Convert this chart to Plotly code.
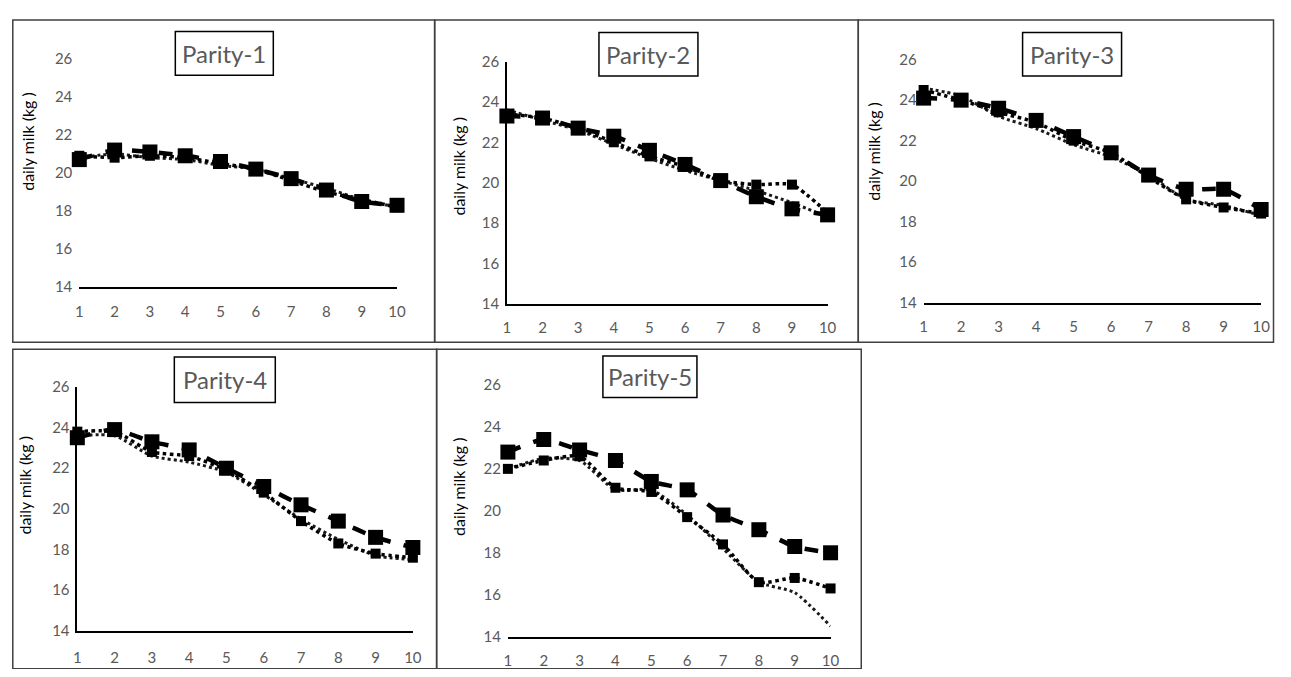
import plotly.graph_objects as go

PAGE_MARGIN = 8           # default body margin of the html page
W, H = 1291 - 2 * PAGE_MARGIN, 677 - 2 * PAGE_MARGIN

months = [1, 2, 3, 4, 5, 6, 7, 8, 9, 10]
panel_titles = ["Parity-1", "Parity-2", "Parity-3", "Parity-4", "Parity-5"]
y_ticks = [14, 16, 18, 20, 22, 24, 26]

# series per parity
s1 = [
    [20.7, 21.2, 21.1, 20.9, 20.6, 20.2, 19.7, 19.1, 18.5, 18.3],
    [23.3, 23.2, 22.7, 22.3, 21.6, 20.9, 20.1, 19.3, 18.7, 18.4],
    [24.1, 24.0, 23.6, 23.0, 22.2, 21.4, 20.3, 19.6, 19.6, 18.6],
    [23.5, 23.9, 23.3, 22.9, 22.0, 21.1, 20.2, 19.4, 18.6, 18.1],
    [22.8, 23.4, 22.9, 22.4, 21.4, 21.0, 19.8, 19.1, 18.3, 18.0],
]
s2 = [
    [20.9, 20.8, 20.9, 20.8, 20.5, 20.2, 19.6, 19.0, 18.6, 18.2],
    [23.4, 23.2, 22.7, 22.0, 21.3, 20.8, 20.1, 19.9, 19.9, 18.5],
    [24.5, 24.0, 23.4, 22.9, 22.0, 21.4, 20.2, 19.1, 18.7, 18.4],
    [23.8, 23.8, 22.8, 22.6, 21.9, 20.8, 19.4, 18.3, 17.8, 17.6],
    [22.0, 22.4, 22.6, 21.1, 20.9, 19.7, 18.4, 16.6, 16.8, 16.3],
]
s3 = [
    [20.8, 21.0, 20.8, 20.7, 20.4, 20.2, 19.7, 19.2, 18.6, 18.2],
    [23.6, 23.1, 22.6, 21.9, 21.2, 20.6, 20.1, 19.6, 19.0, 18.3],
    [24.6, 24.2, 23.2, 22.6, 21.8, 21.2, 20.3, 19.1, 18.8, 18.3],
    [23.6, 23.6, 22.6, 22.3, 21.8, 20.7, 19.5, 18.5, 17.7, 17.5],
    [22.0, 22.5, 22.4, 21.0, 21.0, 19.8, 18.2, 16.6, 16.1, 14.5],
]

# layout geometry in page pixels
plot_px = [  # x0, x1, y_top, y_bottom
    (76, 397, 50, 286),
    (508, 832, 53, 303),
    (929, 1270, 51, 302),
    (74, 413, 389, 641),
    (509, 835, 387, 647),
]
frames_px = [
    (8.8, 435, 10, 343),
    (435, 863, 10, 343),
    (863, 1282.5, 10, 343),
    (8.8, 437, 350, 680),
    (437, 866, 350, 680),
]
title_boxes = [
    (173, 272, 22, 67),
    (601, 701, 23, 68),
    (1029, 1129, 23, 68),
    (172, 274, 358, 405),
    (605, 700, 357, 400),
]
ytitle_pos = [(24, 135), (459, 161), (878, 146), (21, 490), (459, 492)]
show_yline = [False, True, False, True, False]
xlab_len = [10, 10, 10, 12, 10]

FONT = "Lato"
GREY = "#595959"

def px_x(p):
    return (p - PAGE_MARGIN) / W

def px_y(p):
    return 1 - (p - PAGE_MARGIN) / H

fig = go.Figure()
layout = dict(
    width=W, height=H, margin=dict(l=0, r=0, t=0, b=0),
    paper_bgcolor="white", plot_bgcolor="white", showlegend=False,
    font=dict(family=FONT, color=GREY),
)
shapes = []
annotations = []

for i in range(5):
    n = "" if i == 0 else str(i + 1)
    xa, ya = "x" + n, "y" + n
    x0, x1, yt, yb = plot_px[i]
    layout["xaxis" + n] = dict(
        domain=[px_x(x0), px_x(x1)], range=[1, 10], anchor=ya,
        tickvals=months, ticktext=[str(m) for m in months],
        showgrid=False, zeroline=False, showline=True, linecolor="black", linewidth=1.5,
        ticks="outside", ticklen=xlab_len[i], tickcolor="rgba(0,0,0,0)",
        tickfont=dict(family=FONT, size=15, color=GREY),
    )
    layout["yaxis" + n] = dict(
        domain=[px_y(yb), px_y(yt)], range=[14, 26], anchor=xa,
        tickvals=y_ticks, showgrid=False, zeroline=False,
        showline=show_yline[i], linecolor="black", linewidth=1.5,
        ticks="outside", ticklen=3, tickcolor="rgba(0,0,0,0)",
        tickfont=dict(family=FONT, size=15, color=GREY),
    )
    fig.add_trace(go.Scatter(
        x=months, y=s3[i], xaxis=xa, yaxis=ya, mode="lines",
        line=dict(color="#1a1a1a", width=3, dash="dot", shape="spline", smoothing=0.6),
        cliponaxis=False,
    ))
    fig.add_trace(go.Scatter(
        x=months, y=s2[i], xaxis=xa, yaxis=ya, mode="lines+markers",
        line=dict(color="black", width=3.5, dash="dot", shape="spline", smoothing=0.6),
        marker=dict(symbol="square", size=10, color="black"),
        cliponaxis=False,
    ))
    fig.add_trace(go.Scatter(
        x=months, y=s1[i], xaxis=xa, yaxis=ya, mode="lines+markers",
        line=dict(color="black", width=4.5, dash="dash", shape="spline", smoothing=0.6),
        marker=dict(symbol="square", size=15, color="black"),
        cliponaxis=False,
    ))
    fx0, fx1, fy0, fy1 = frames_px[i]
    shapes.append(dict(type="rect", xref="paper", yref="paper",
                       x0=px_x(fx0), x1=px_x(fx1), y0=px_y(fy1), y1=px_y(fy0),
                       line=dict(color="#404040", width=1.5)))
    bx0, bx1, by0, by1 = title_boxes[i]
    shapes.append(dict(type="rect", xref="paper", yref="paper",
                       x0=px_x(bx0), x1=px_x(bx1), y0=px_y(by1), y1=px_y(by0),
                       line=dict(color="black", width=1.5), fillcolor="white"))
    annotations.append(dict(
        text=panel_titles[i], xref="paper", yref="paper",
        x=px_x((bx0 + bx1) / 2), y=px_y((by0 + by1) / 2),
        xanchor="center", yanchor="middle", showarrow=False,
        font=dict(family=FONT, size=24, color=GREY),
    ))
    tx, ty = ytitle_pos[i]
    annotations.append(dict(
        text="daily milk (kg )", xref="paper", yref="paper",
        x=px_x(tx), y=px_y(ty), xanchor="center", yanchor="middle",
        textangle=-90, showarrow=False,
        font=dict(family=FONT, size=16, color="black"),
    ))

layout["shapes"] = shapes
layout["annotations"] = annotations
fig.update_layout(**layout)
fig.write_html("out.html", config={"displayModeBar": False})
